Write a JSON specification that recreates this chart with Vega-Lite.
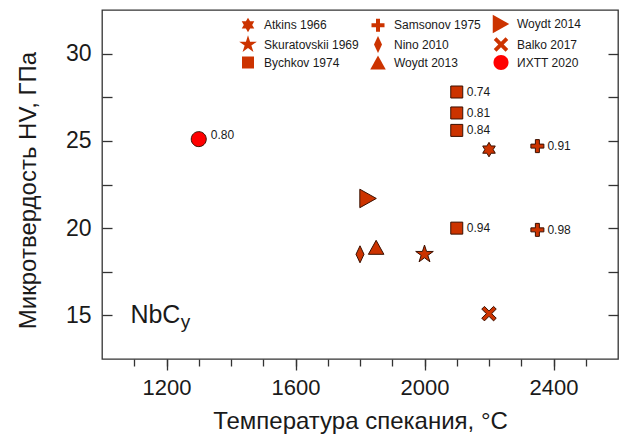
{
  "$schema": "https://vega.github.io/schema/vega-lite/v6.json",
  "width": 516,
  "height": 349,
  "autosize": {"type": "none"},
  "padding": {"left": 102, "top": 10, "right": 1, "bottom": 82},
  "background": "white",
  "config": {
    "font": "Liberation Sans",
    "view": {"stroke": "#333333", "strokeWidth": 1.3},
    "axis": {
      "domain": false, "grid": false, "tickColor": "#333333", "tickWidth": 1.3,
      "labelColor": "#1a1a1a", "titleColor": "#1a1a1a",
      "labelFont": "Liberation Sans", "titleFont": "Liberation Sans",
      "titleFontWeight": "normal", "labelFontSize": 22, "titleFontSize": 24,
      "labelOverlap": false, "labelFlush": false
    }
  },
  "data": {
    "values": [
      {"series": "Atkins 1966", "T": 2200, "HV": 24.5, "label": null},
      {"series": "Skuratovskii 1969", "T": 2000, "HV": 18.5, "label": null},
      {"series": "Bychkov 1974", "T": 2100, "HV": 27.8, "label": "0.74"},
      {"series": "Bychkov 1974", "T": 2100, "HV": 26.6, "label": "0.81"},
      {"series": "Bychkov 1974", "T": 2100, "HV": 25.6, "label": "0.84"},
      {"series": "Bychkov 1974", "T": 2100, "HV": 20.0, "label": "0.94"},
      {"series": "Samsonov 1975", "T": 2350, "HV": 24.7, "label": "0.91"},
      {"series": "Samsonov 1975", "T": 2350, "HV": 19.9, "label": "0.98"},
      {"series": "Nino 2010", "T": 1800, "HV": 18.5, "label": null},
      {"series": "Woydt 2013", "T": 1850, "HV": 18.9, "label": null},
      {"series": "Woydt 2014", "T": 1825, "HV": 21.7, "label": null},
      {"series": "Balko 2017", "T": 2200, "HV": 15.1, "label": null},
      {"series": "ИХТТ 2020", "T": 1300, "HV": 25.1, "label": "0.80"}
    ]
  },
  "layer": [
    {
      "mark": {"type": "point", "filled": true, "opacity": 1, "size": 100, "stroke": "#3a1000", "strokeWidth": 1},
      "encoding": {
        "x": {
          "field": "T", "type": "quantitative",
          "scale": {"domain": [1000, 2600], "nice": false, "zero": false},
          "axis": {
            "orient": "bottom",
            "values": [1100, 1200, 1300, 1400, 1500, 1600, 1700, 1800, 1900, 2000, 2100, 2200, 2300, 2400, 2500],
            "tickSize": 7, "labelPadding": 11, "format": "d",
            "labelExpr": "datum.value % 400 === 0 ? datum.label : ''",
            "title": "Температура спекания, °C", "titlePadding": 11
          }
        },
        "y": {
          "field": "HV", "type": "quantitative",
          "scale": {"domain": [12.5, 32.5], "nice": false, "zero": false},
          "axis": {
            "orient": "left",
            "values": [15, 17.5, 20, 22.5, 25, 27.5, 30],
            "tickSize": -10, "labelPadding": 21, "labelFontSize": 23,
            "labelExpr": "datum.value % 5 === 0 ? datum.label : ''",
            "title": "Микротвердость HV, ГПа", "titlePadding": 25, "titleY": 180
          }
        },
        "color": {
          "field": "series", "type": "nominal",
          "scale": {
            "domain": ["Atkins 1966", "Skuratovskii 1969", "Bychkov 1974", "Samsonov 1975", "Nino 2010", "Woydt 2013", "Woydt 2014", "Balko 2017", "ИХТТ 2020"],
            "range": ["#cc3300", "#cc3300", "#cc3300", "#cc3300", "#cc3300", "#cc3300", "#cc3300", "#cc3300", "#ff0000"]
          },
          "legend": {
            "orient": "none", "legendX": 140, "legendY": 7.5, "columns": 3, "title": null, "padding": 0,
            "columnPadding": 11, "rowPadding": 1, "labelOffset": 10, "labelFontSize": 12,
            "labelColor": "#1a1a1a", "labelFont": "Liberation Sans", "symbolSize": 100, "symbolStrokeWidth": 0,
            "encode": {
              "labels": {"update": {
                "fontSize": {"signal": "datum.value === 'Samsonov 1975' || datum.value === 'Woydt 2014' ? 13 : 12"},
                "fontWeight": {"signal": "datum.value === 'ИХТТ 2020' ? 'bold' : 'normal'"}
              }},
              "symbols": {"update": {"strokeWidth": {"value": 0}}}
            }
          }
        },
        "shape": {
          "field": "series", "type": "nominal",
          "scale": {
            "domain": ["Atkins 1966", "Skuratovskii 1969", "Bychkov 1974", "Samsonov 1975", "Nino 2010", "Woydt 2013", "Woydt 2014", "Balko 2017", "ИХТТ 2020"],
            "range": [
              "M0,-1.45L0.419,-0.725L1.256,-0.725L0.837,0L1.256,0.725L0.419,0.725L0,1.45L-0.419,0.725L-1.256,0.725L-0.837,0L-1.256,-0.725L-0.419,-0.725Z",
              "M0,-1.85L0.415,-0.572L1.759,-0.572L0.672,0.218L1.088,1.497L0,0.707L-1.088,1.497L-0.672,0.218L-1.759,-0.572L-0.415,-0.572Z",
              "M-1.2,-1.2L1.2,-1.2L1.2,1.2L-1.2,1.2Z",
              "M-1.3,-0.4L-0.4,-0.4L-0.4,-1.3L0.4,-1.3L0.4,-0.4L1.3,-0.4L1.3,0.4L0.4,0.4L0.4,1.3L-0.4,1.3L-0.4,0.4L-1.3,0.4Z",
              "M0,-1.7L0.8,0L0,1.7L-0.8,0Z",
              "M0,-1.4L1.55,1.4L-1.55,1.4Z",
              "M-1.65,-1.85L1.65,0L-1.65,1.85Z",
              "M1.45,-0.912L0.537,0L1.45,0.912L0.912,1.45L0,0.537L-0.912,1.45L-1.45,0.912L-0.537,0L-1.45,-0.912L-0.912,-1.45L0,-0.537L0.912,-1.45Z",
              "M1.5,0C1.5,0.8284,0.8284,1.5,0,1.5C-0.8284,1.5,-1.5,0.8284,-1.5,0C-1.5,-0.8284,-0.8284,-1.5,0,-1.5C0.8284,-1.5,1.5,-0.8284,1.5,0Z"
            ]
          }
        }
      }
    },
    {
      "transform": [{"filter": "datum.label != null && datum.series !== 'ИХТТ 2020'"}],
      "mark": {"type": "text", "align": "left", "baseline": "middle", "dx": 10, "fontSize": 12, "color": "#1a1a1a"},
      "encoding": {
        "x": {
          "field": "T", "type": "quantitative",
          "scale": {"domain": [1000, 2600], "nice": false, "zero": false},
          "axis": {"orient": "bottom", "values": [1200, 1600, 2000, 2400], "tickSize": 11, "labels": false, "title": null}
        },
        "y": {
          "field": "HV", "type": "quantitative",
          "scale": {"domain": [12.5, 32.5], "nice": false, "zero": false},
          "axis": {"orient": "right", "values": [15, 17.5, 20, 22.5, 25, 27.5, 30], "tickSize": -10, "labels": false, "title": null}
        },
        "text": {"field": "label"}
      }
    },
    {
      "transform": [{"filter": "datum.series === 'ИХТТ 2020'"}],
      "mark": {"type": "text", "align": "left", "baseline": "middle", "dx": 12, "dy": -4, "fontSize": 12, "color": "#1a1a1a"},
      "encoding": {
        "x": {"field": "T", "type": "quantitative", "axis": null},
        "y": {"field": "HV", "type": "quantitative", "axis": null},
        "text": {"field": "label"}
      }
    },
    {
      "data": {"values": [{"txt": "NbC"}]},
      "mark": {"type": "text", "align": "left", "baseline": "alphabetic", "fontSize": 25, "color": "#1a1a1a"},
      "encoding": {
        "x": {"datum": 1088, "type": "quantitative", "axis": null},
        "y": {"datum": 14.55, "type": "quantitative", "axis": null},
        "text": {"field": "txt"}
      }
    },
    {
      "data": {"values": [{"txt": "y"}]},
      "mark": {"type": "text", "align": "left", "baseline": "alphabetic", "fontSize": 19, "color": "#1a1a1a"},
      "encoding": {
        "x": {"datum": 1244, "type": "quantitative", "axis": null},
        "y": {"datum": 14.28, "type": "quantitative", "axis": null},
        "text": {"field": "txt"}
      }
    }
  ],
  "resolve": {"axis": {"x": "independent", "y": "independent"}}
}
